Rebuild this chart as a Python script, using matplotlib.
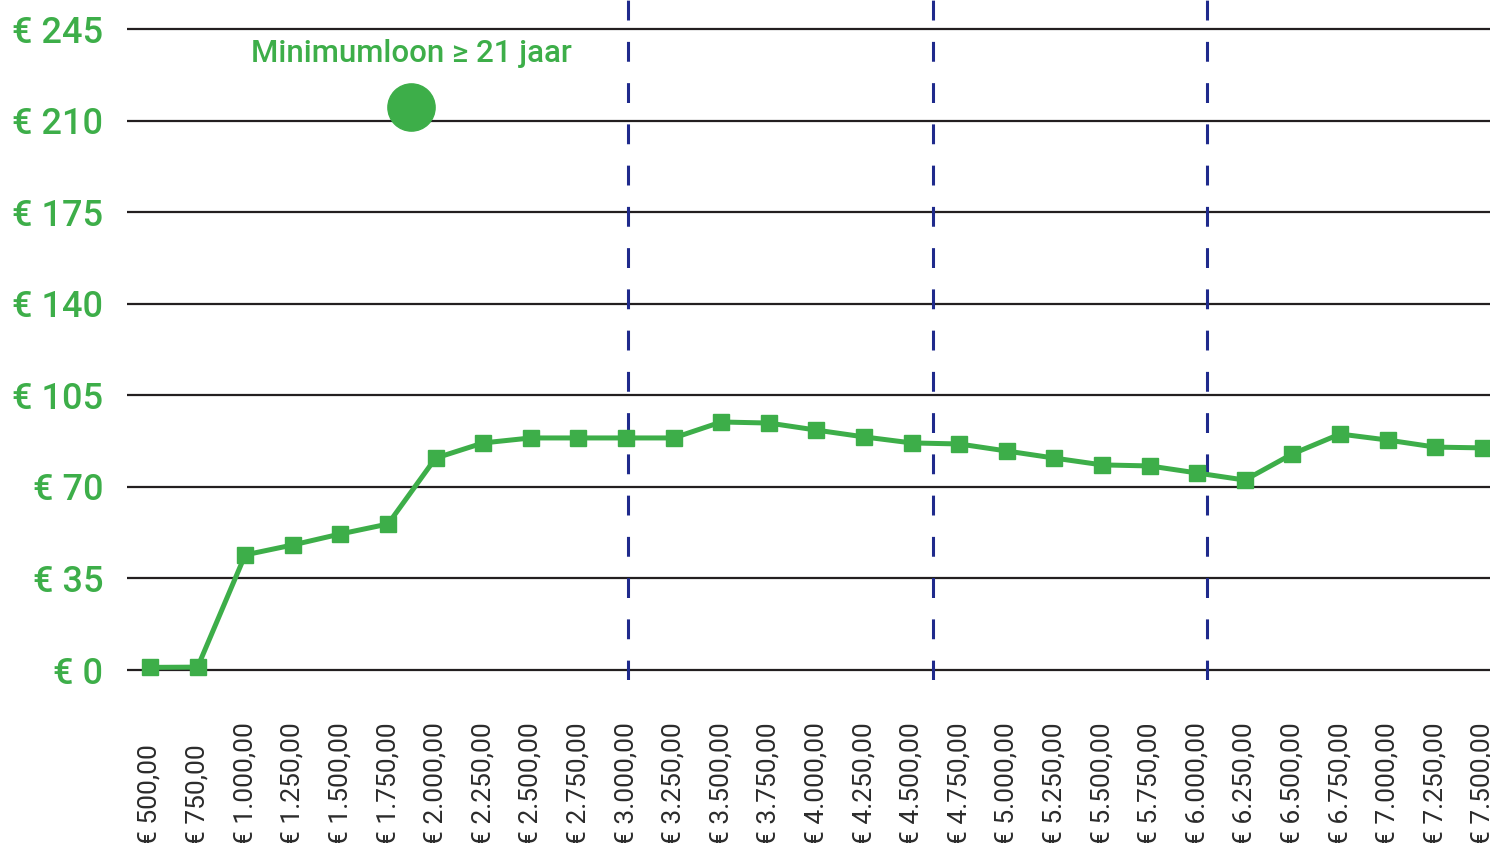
import matplotlib
matplotlib.use("Agg")
import matplotlib.pyplot as plt

# lettertype met terugval
plt.rcParams['font.family'] = ['Roboto', 'DejaVu Sans']

groen = '#3DAE49'
blauw = '#1F2A8C'

# bruto maandinkomen (categorieen op de x-as)
inkomens = [500 + 250 * i for i in range(29)]
x_labels = ['€ ' + f"{v:,.2f}".replace(',', 'X').replace('.', ',').replace('X', '.') for v in inkomens]

# waarden van de lijn (euro)
waarden = [1, 1.1, 44, 47.8, 52, 55.8, 81, 86.8, 88.7, 88.7, 88.7, 88.7, 94.8, 94.4,
           91.7, 89.1, 86.8, 86.4, 83.7, 81, 78.4, 78, 75.3, 72.6, 82.6, 90.2, 87.9,
           85.2, 84.9]

# y-as
y_ticks = [0, 35, 70, 105, 140, 175, 210, 245]
y_labels = ['€ ' + str(t) for t in y_ticks]

# verticale stippellijnen (positie in categorie-index)
grenzen = [10.05, 16.45, 22.2]

# minimumloon punt
minimumloon_x = 5.49
minimumloon_y = 215.2
minimumloon_tekst = 'Minimumloon ≥ 21 jaar'

fig = plt.figure(figsize=(14.9, 8.43), dpi=100)
ax = fig.add_axes([127 / 1490, 1 - 680 / 843, 1 - 127 / 1490, 680 / 843])

idx = list(range(len(inkomens)))

# rasterlijnen
for t in y_ticks:
    ax.axhline(t, color='#231F20', linewidth=1.6, zorder=1)

# stippellijnen
for g in grenzen:
    ax.axvline(g, color=blauw, linewidth=2.2, dashes=(6.5, 7), zorder=2)

# de lijn
ax.plot(idx, waarden, color=groen, linewidth=3.6, marker='s', markersize=11.5,
        zorder=3)

# minimumloon
ax.plot([minimumloon_x], [minimumloon_y], 'o', color=groen, markersize=34, zorder=4)
ax.text(minimumloon_x, 232.5, minimumloon_tekst, color=groen, fontsize=22.5,
        fontweight='medium', ha='center', va='baseline', zorder=4)

ax.set_xlim(-0.483, 28.15)
ax.set_ylim(-3.82, 256.1)

ax.set_yticks(y_ticks, labels=y_labels)
ax.tick_params(axis='y', length=0, pad=17, labelsize=26, labelcolor=groen)
for lab in ax.get_yticklabels():
    lab.set_fontweight('medium')

ax.set_xticks(idx, labels=x_labels, rotation=90, va='bottom', ha='center')
ax.tick_params(axis='x', length=0, pad=119, labelsize=19, labelcolor='#2B2B2B')

for s in ax.spines.values():
    s.set_visible(False)

fig.savefig('out.png', dpi=100)
